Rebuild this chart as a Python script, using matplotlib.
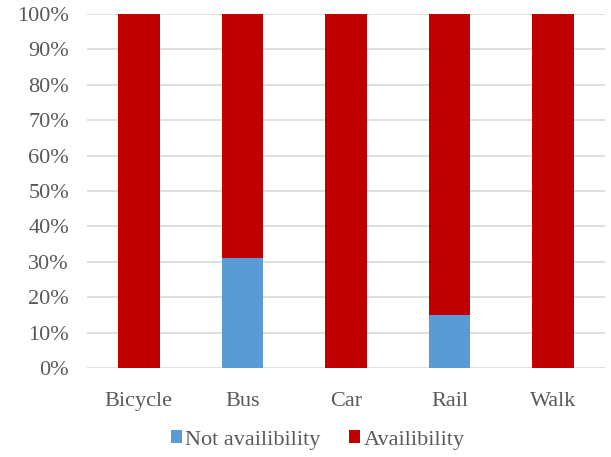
import numpy as np
import matplotlib.pyplot as plt
from matplotlib.ticker import PercentFormatter

modes = ['Bicycle', 'Bus', 'Car', 'Rail', 'Walk']
not_avail = [0, 31, 0, 15, 0]
avail = [100, 69, 100, 85, 100]

plt.rcParams['font.family'] = ['Liberation Serif', 'DejaVu Serif']
txt = '#595959'

fig = plt.figure(figsize=(6.11, 4.57), dpi=100)
ax = fig.add_axes([87 / 611, 89 / 457, 518 / 611, 354 / 457])

x = np.arange(len(modes))
ax.bar(x, not_avail, width=0.4, color='#5B9BD5', label='Not availibility', zorder=3)
ax.bar(x, avail, width=0.4, bottom=not_avail, color='#C00000', label='Availibility', zorder=3)

ax.set_xlim(-0.5, len(modes) - 0.5)
ax.set_ylim(0, 100)
ax.set_yticks(np.arange(0, 101, 10))
ax.yaxis.set_major_formatter(PercentFormatter(decimals=0))
ax.set_xticks(x)
ax.set_xticklabels(modes)
ax.grid(axis='y', color='#d9d9d9', linewidth=1.2, zorder=0)
ax.tick_params(length=0, labelsize=16, colors=txt)
ax.tick_params(axis='y', pad=13)
ax.tick_params(axis='x', pad=17)
for s in ax.spines.values():
    s.set_visible(False)

leg = fig.legend(loc='center', bbox_to_anchor=(0.52, 0.037), ncol=2, frameon=False,
                 fontsize=16, handlelength=0.5, handleheight=0.5, handletextpad=0.15,
                 columnspacing=1.3, labelcolor=txt, borderpad=0)

fig.savefig('out.png', dpi=100)
